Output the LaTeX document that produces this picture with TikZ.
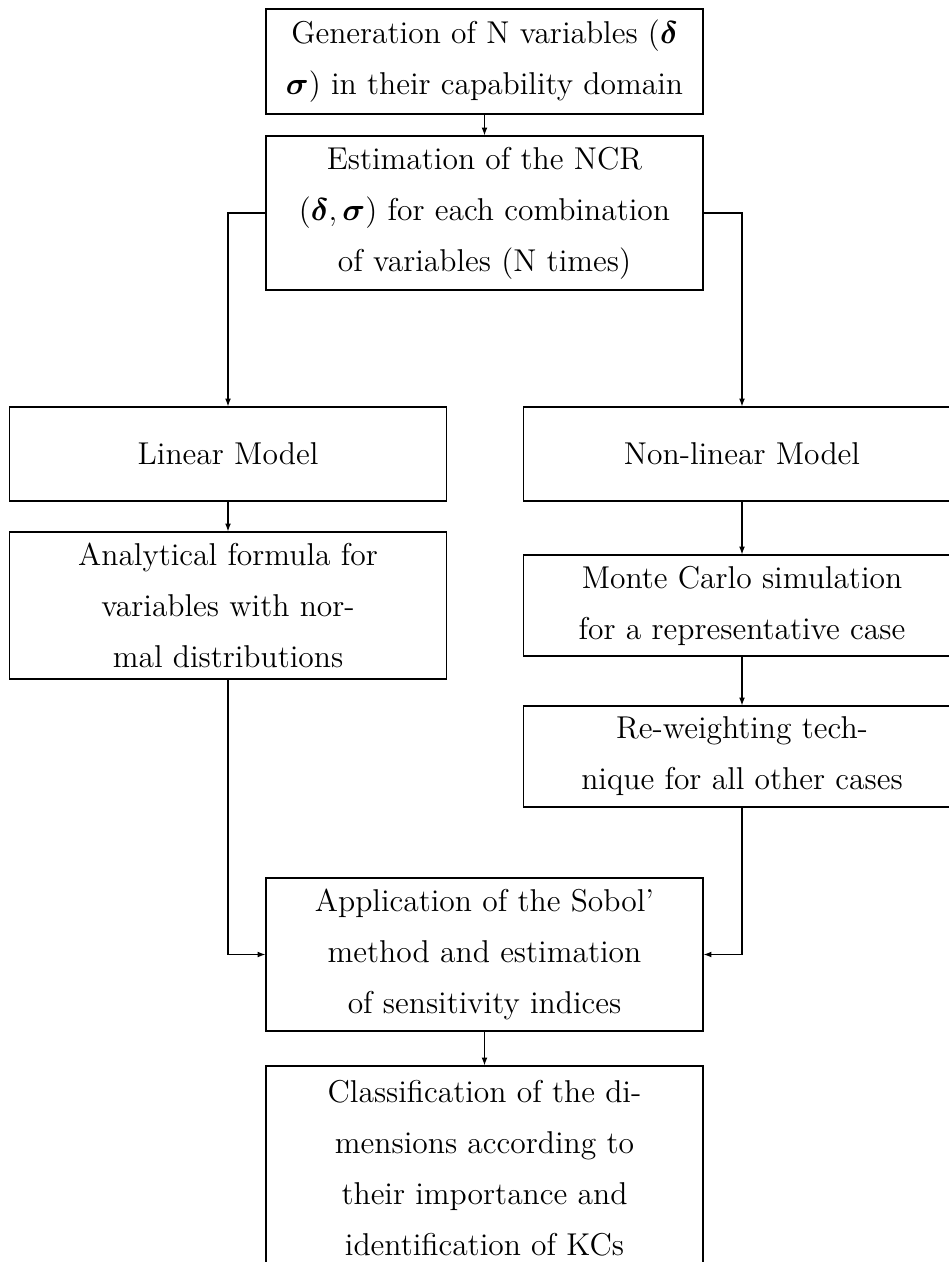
\documentclass[tikz,border=0pt]{standalone}
\usepackage{amsmath}
\usetikzlibrary{arrows.meta}
\def\sc{0.3802}
\tikzset{
  box/.style={draw, align=center, minimum width=437*\sc pt, inner sep=0pt,
    font=\fontsize{12}{19.4}\selectfont},
  arr/.style={-{Latex[length=3pt,width=2.2pt]}}
}
\begin{document}
\begin{tikzpicture}[x=\sc pt, y=-\sc pt, line width=0.4pt]
\useasboundingbox (0,0) rectangle (949,1262);
\clip (0,0) rectangle (949,1262);
\node[box, minimum height=105*\sc pt] (gen) at (484.5,61.5)
  {Generation of N variables ($\boldsymbol{\delta}$\\$\boldsymbol{\sigma}$) in their capability domain};
\node[box, minimum height=154*\sc pt] (ncr) at (484.5,213)
  {Estimation of the NCR\\($\boldsymbol{\delta},\boldsymbol{\sigma}$) for each combination\\of variables (N times)};
\node[box, minimum height=94*\sc pt] (lin) at (228,454) {Linear Model};
\node[box, minimum height=147*\sc pt] (ana) at (228,605.5)
  {Analytical formula for\\variables with nor-\\mal distributions};
\node[box, minimum height=94*\sc pt] (nl) at (742,454) {Non-linear Model};
\node[box, minimum height=101*\sc pt] (mc) at (742,605.5)
  {Monte Carlo simulation\\for a representative case};
\node[box, minimum height=101*\sc pt] (rw) at (742,756.5)
  {Re-weighting tech-\\nique for all other cases};
\node[box, minimum height=153*\sc pt] (sob) at (484.5,954.5)
  {Application of the Sobol'\\method and estimation\\of sensitivity indices};
\node[box, minimum height=204*\sc pt] (cls) at (484.5,1168)
  {Classification of the di-\\mensions according to\\their importance and\\identification of KCs};
\draw[arr] (gen) -- (ncr);
\draw[arr] (ncr.west) -| (lin.north);
\draw[arr] (ncr.east) -| (nl.north);
\draw[arr] (lin) -- (ana);
\draw[arr] (nl) -- (mc);
\draw[arr] (mc) -- (rw);
\draw[arr] (ana.south) |- (sob.west);
\draw[arr] (rw.south) |- (sob.east);
\draw[arr] (sob) -- (cls);
\end{tikzpicture}
\end{document}
